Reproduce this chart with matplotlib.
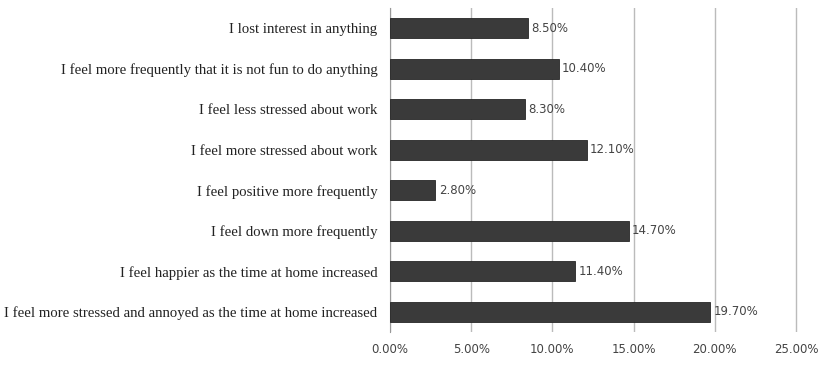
import matplotlib.pyplot as plt
from matplotlib.ticker import FuncFormatter

labels = [
    "I lost interest in anything",
    "I feel more frequently that it is not fun to do anything",
    "I feel less stressed about work",
    "I feel more stressed about work",
    "I feel positive more frequently",
    "I feel down more frequently",
    "I feel happier as the time at home increased",
    "I feel more stressed and annoyed as the time at home increased",
]
values = [8.5, 10.4, 8.3, 12.1, 2.8, 14.7, 11.4, 19.7]
xticks = [0, 5, 10, 15, 20, 25]

fig = plt.figure(figsize=(8.21, 3.67), dpi=100)
# axes a few px wider than the 25% line so that gridline is not clipped
ax = fig.add_axes([390 / 821, 1 - 332 / 367, 410 / 821, 324 / 367])

ypos = list(range(len(labels)))
ax.barh(ypos, values, height=0.5, color="#3a3a3a", edgecolor="#262626", linewidth=0.6, zorder=3)

for y, v in zip(ypos, values):
    ax.text(v + 0.2, y, "%.2f%%" % v, va="center", ha="left",
            fontsize=8.5, color="#444444", family="DejaVu Sans", zorder=4)

ax.set_xlim(0, 25 * 410 / 406)
ax.set_ylim(len(labels) - 0.5, -0.5)
ax.set_xticks(xticks)
ax.xaxis.set_major_formatter(FuncFormatter(lambda x, p: "%.2f%%" % x))
ax.set_yticks(ypos)
ax.set_yticklabels(labels, family="Liberation Serif", fontsize=10.6, color="#222222")
ax.tick_params(axis="y", length=0, pad=9)
ax.tick_params(axis="x", length=0, pad=8, labelsize=8.5, labelcolor="#444444")
ax.grid(axis="x", color="#bbbbbb", linewidth=1, zorder=0)
for s in ["top", "right", "bottom"]:
    ax.spines[s].set_visible(False)
ax.spines["left"].set_color("#999999")

fig.savefig("out.png", dpi=100)
